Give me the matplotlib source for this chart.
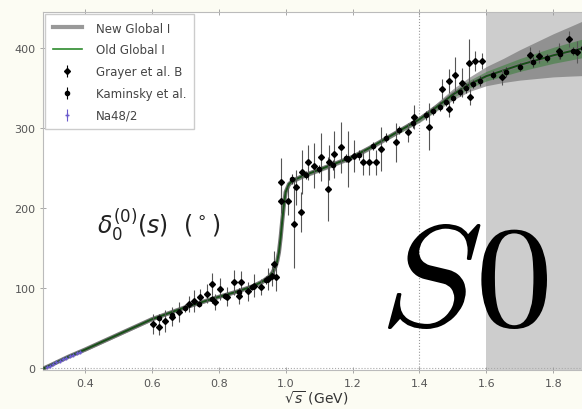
import numpy as np
import matplotlib
matplotlib.use("Agg")
import matplotlib.pyplot as plt
from matplotlib.lines import Line2D
from matplotlib.textpath import TextPath
from matplotlib.patches import PathPatch
from matplotlib.font_manager import FontProperties
from matplotlib.transforms import Affine2D

# central curves (sqrt(s) in GeV, phase in degrees)
curve_x = [0.279, 0.30, 0.35, 0.40, 0.50, 0.60, 0.70, 0.80, 0.85, 0.90, 0.93, 0.95,
           0.96, 0.97, 0.975, 0.98, 0.985, 0.99, 0.995, 1.00, 1.01, 1.02, 1.05, 1.10,
           1.15, 1.20, 1.25, 1.30, 1.35, 1.40, 1.45, 1.50, 1.55, 1.60, 1.65, 1.70,
           1.75, 1.80, 1.85, 1.91]
curve_y = [0, 4, 14, 23, 42, 61, 76, 89, 95, 102, 108, 114, 119, 127, 134, 145,
           163, 185, 205, 220, 230, 234, 240, 248, 256, 264, 275, 287, 299, 311,
           326, 342, 355, 365, 372, 379, 385, 391, 396, 402]
new_err = [1, 1, 1, 2, 2, 2, 2, 2, 2, 2, 3, 3, 3, 3, 3, 3, 3, 3, 3, 3, 3, 3, 3, 3,
           3, 3, 3, 3, 3, 4, 5, 7, 9, 12, 15, 19, 23, 27, 31, 36]
old_err = [1, 1, 1, 1, 1, 1, 1, 1, 1, 1, 2, 2, 2, 2, 2, 2, 2, 2, 2, 2, 2, 2, 2, 2,
           2, 2, 2, 2, 3, 3, 4, 4, 5, 6, 7, 8, 9, 10, 11, 12]

# Grayer et al. solution B
gr_x = [0.604, 0.62, 0.64, 0.66, 0.68, 0.71, 0.725, 0.745, 0.766, 0.78, 0.79, 0.805,
        0.826, 0.845, 0.86, 0.866, 0.886, 0.905, 0.925, 0.946, 0.96, 0.965, 0.97,
        0.985, 0.985, 1.007, 1.025, 1.03, 1.046, 1.05, 1.067, 1.085, 1.105, 1.126,
        1.13, 1.145, 1.166, 1.187, 1.205, 1.23, 1.25, 1.27, 1.286, 1.33, 1.367,
        1.385, 1.427, 1.466, 1.487, 1.487, 1.505, 1.526, 1.547, 1.55, 1.565, 1.586,
        1.646, 1.73, 1.757, 1.817, 1.847, 1.87]
gr_y = [55, 51, 59, 64, 70, 80, 84, 89, 93, 105, 82, 99, 89, 107, 90, 107, 96, 103,
        101, 111, 115, 130, 114, 232, 209, 209, 180, 226, 195, 245, 257, 253, 264,
        224, 257, 267, 276, 261, 265, 257, 257, 257, 274, 282, 295, 314, 302, 349,
        359, 324, 367, 357, 382, 339, 384, 384, 364, 392, 390, 396, 411, 395]
gr_err = [12, 10, 14, 12, 12, 10, 14, 10, 12, 14, 10, 14, 12, 16, 10, 14, 12, 14, 10,
          14, 12, 16, 18, 30, 15, 18, 55, 22, 25, 28, 22, 28, 30, 40, 22, 30, 32, 35,
          20, 16, 16, 16, 28, 25, 12, 15, 30, 12, 15, 10, 22, 18, 30, 10, 12, 10, 10,
          10, 8, 10, 10, 14]

# Kaminsky et al.
ka_x = [0.62, 0.66, 0.70, 0.74, 0.78, 0.82, 0.86, 0.90, 0.94, 1.02, 1.06, 1.10,
        1.14, 1.18, 1.22, 1.26, 1.30, 1.34, 1.38, 1.42, 1.44, 1.46, 1.48, 1.50, 1.52,
        1.54, 1.56, 1.58, 1.62, 1.66, 1.70, 1.74, 1.78, 1.82, 1.86, 1.89]
ka_y = [63, 66, 75, 80, 86, 90, 95, 101, 110, 236, 241, 249, 254, 262, 266, 277,
        288, 298, 306, 316, 322, 327, 333, 338, 345, 350, 355, 359, 366, 370, 377,
        383, 388, 393, 396, 400]
ka_err = [4, 4, 5, 4, 5, 4, 5, 4, 5, 6, 5, 5, 6, 5, 6, 5, 6, 5, 6, 6, 5, 6, 5, 6, 5,
          6, 5, 6, 5, 6, 5, 6, 5, 6, 5, 6]

# NA48/2
na_x = [0.286, 0.295, 0.305, 0.315, 0.325, 0.335, 0.345, 0.355, 0.365, 0.375, 0.385]
na_y = [1.5, 3.2, 5.1, 7.0, 9.1, 11.0, 12.8, 14.9, 16.8, 18.6, 20.4]
na_err = [0.5, 0.6, 0.6, 0.7, 0.7, 0.8, 0.8, 0.9, 0.9, 1.0, 1.0]

cx = np.array(curve_x)
cy = np.array(curve_y)

fig = plt.figure(figsize=(5.82, 4.10), dpi=100, facecolor="#fcfcf3")
ax = fig.add_axes([0.074, 0.094, 0.94, 0.874])
ax.set_facecolor("white")

ax.axvspan(1.6, 2.0, color="#cdcdcd", lw=0, zorder=0)
ax.axvline(1.4, color="#999999", ls=":", lw=0.8, zorder=1)
ax.axhline(0, color="#aaaaaa", ls=":", lw=0.8, zorder=1)

ax.fill_between(cx, cy - np.array(new_err), cy + np.array(new_err),
                color="#6a6a6a", alpha=0.6, lw=0, zorder=2)
ax.fill_between(cx, cy - np.array(old_err), cy + np.array(old_err),
                color="#2e7d2e", alpha=0.5, lw=0, zorder=2)
ax.plot(cx, cy, color="#777777", lw=3, zorder=3)
ax.plot(cx, cy, color="#174f17", lw=1.4, zorder=4)

ax.errorbar(gr_x, gr_y, yerr=gr_err, fmt="D", ms=3, color="black",
            ecolor="#555555", elinewidth=0.8, capsize=0, zorder=5)
ax.errorbar(ka_x, ka_y, yerr=ka_err, fmt="o", ms=3, color="black",
            ecolor="#333333", elinewidth=0.8, capsize=0, zorder=5)
ax.errorbar(na_x, na_y, yerr=na_err, fmt="+", ms=3, color="#6a5acd",
            elinewidth=0.8, capsize=0, zorder=6)

ax.set_xlim(0.275, 1.91)
ax.set_ylim(-3, 445)
ax.set_xticks([0.4, 0.6, 0.8, 1.0, 1.2, 1.4, 1.6, 1.8])
ax.set_yticks([0, 100, 200, 300, 400])
ax.tick_params(direction="inout", length=4, width=0.6, colors="#999999",
               labelcolor="#555555", labelsize=8, top=True)
for sp in ax.spines.values():
    sp.set_color("#bbbbbb")
    sp.set_linewidth(0.8)
ax.set_xlabel(r"$\sqrt{s}$ (GeV)", fontsize=10, color="#333333", labelpad=0)

ax.text(0.436, 180, r"$\delta_0^{(0)}(s)\ \ (\,^{\circ}\,)$", fontsize=17,
        color="#222222", va="center", ha="left")

# big "S0" label, slightly stretched like in the original
tp = TextPath((0, 0), r"$S0$", size=100, prop=FontProperties(math_fontfamily="cm"))
ext = tp.get_extents()
tr = (Affine2D().translate(-ext.x0, -ext.y0)
      .scale(159 / ext.width, 105 / ext.height)
      .translate(388, 410 - 330))
s0 = PathPatch(tp, facecolor="black", edgecolor="none", transform=tr, zorder=7)
ax.add_patch(s0)

handles = [
    Line2D([], [], color="#999999", lw=3),
    Line2D([], [], color="#2e8b2e", lw=1.2),
    ax.errorbar([], [], yerr=[], fmt="D", ms=3, color="black", elinewidth=0.8),
    ax.errorbar([], [], yerr=[], fmt="o", ms=3, color="black", elinewidth=0.8),
    ax.errorbar([], [], yerr=[], fmt="+", ms=3, color="#6a5acd", elinewidth=0.8),
]
labels = ["New Global I", "Old Global I", "Grayer et al. B", "Kaminsky et al.", "Na48/2"]
leg = ax.legend(handles, labels, loc="upper left", fontsize=8.5, handlelength=2.5,
                handletextpad=1.2, labelspacing=0.75, borderpad=0.6,
                borderaxespad=0.2, frameon=True, fancybox=False,
                edgecolor="#cccccc", framealpha=1)
for t in leg.get_texts():
    t.set_color("#444444")

fig.savefig("out.png", dpi=100, facecolor=fig.get_facecolor())
